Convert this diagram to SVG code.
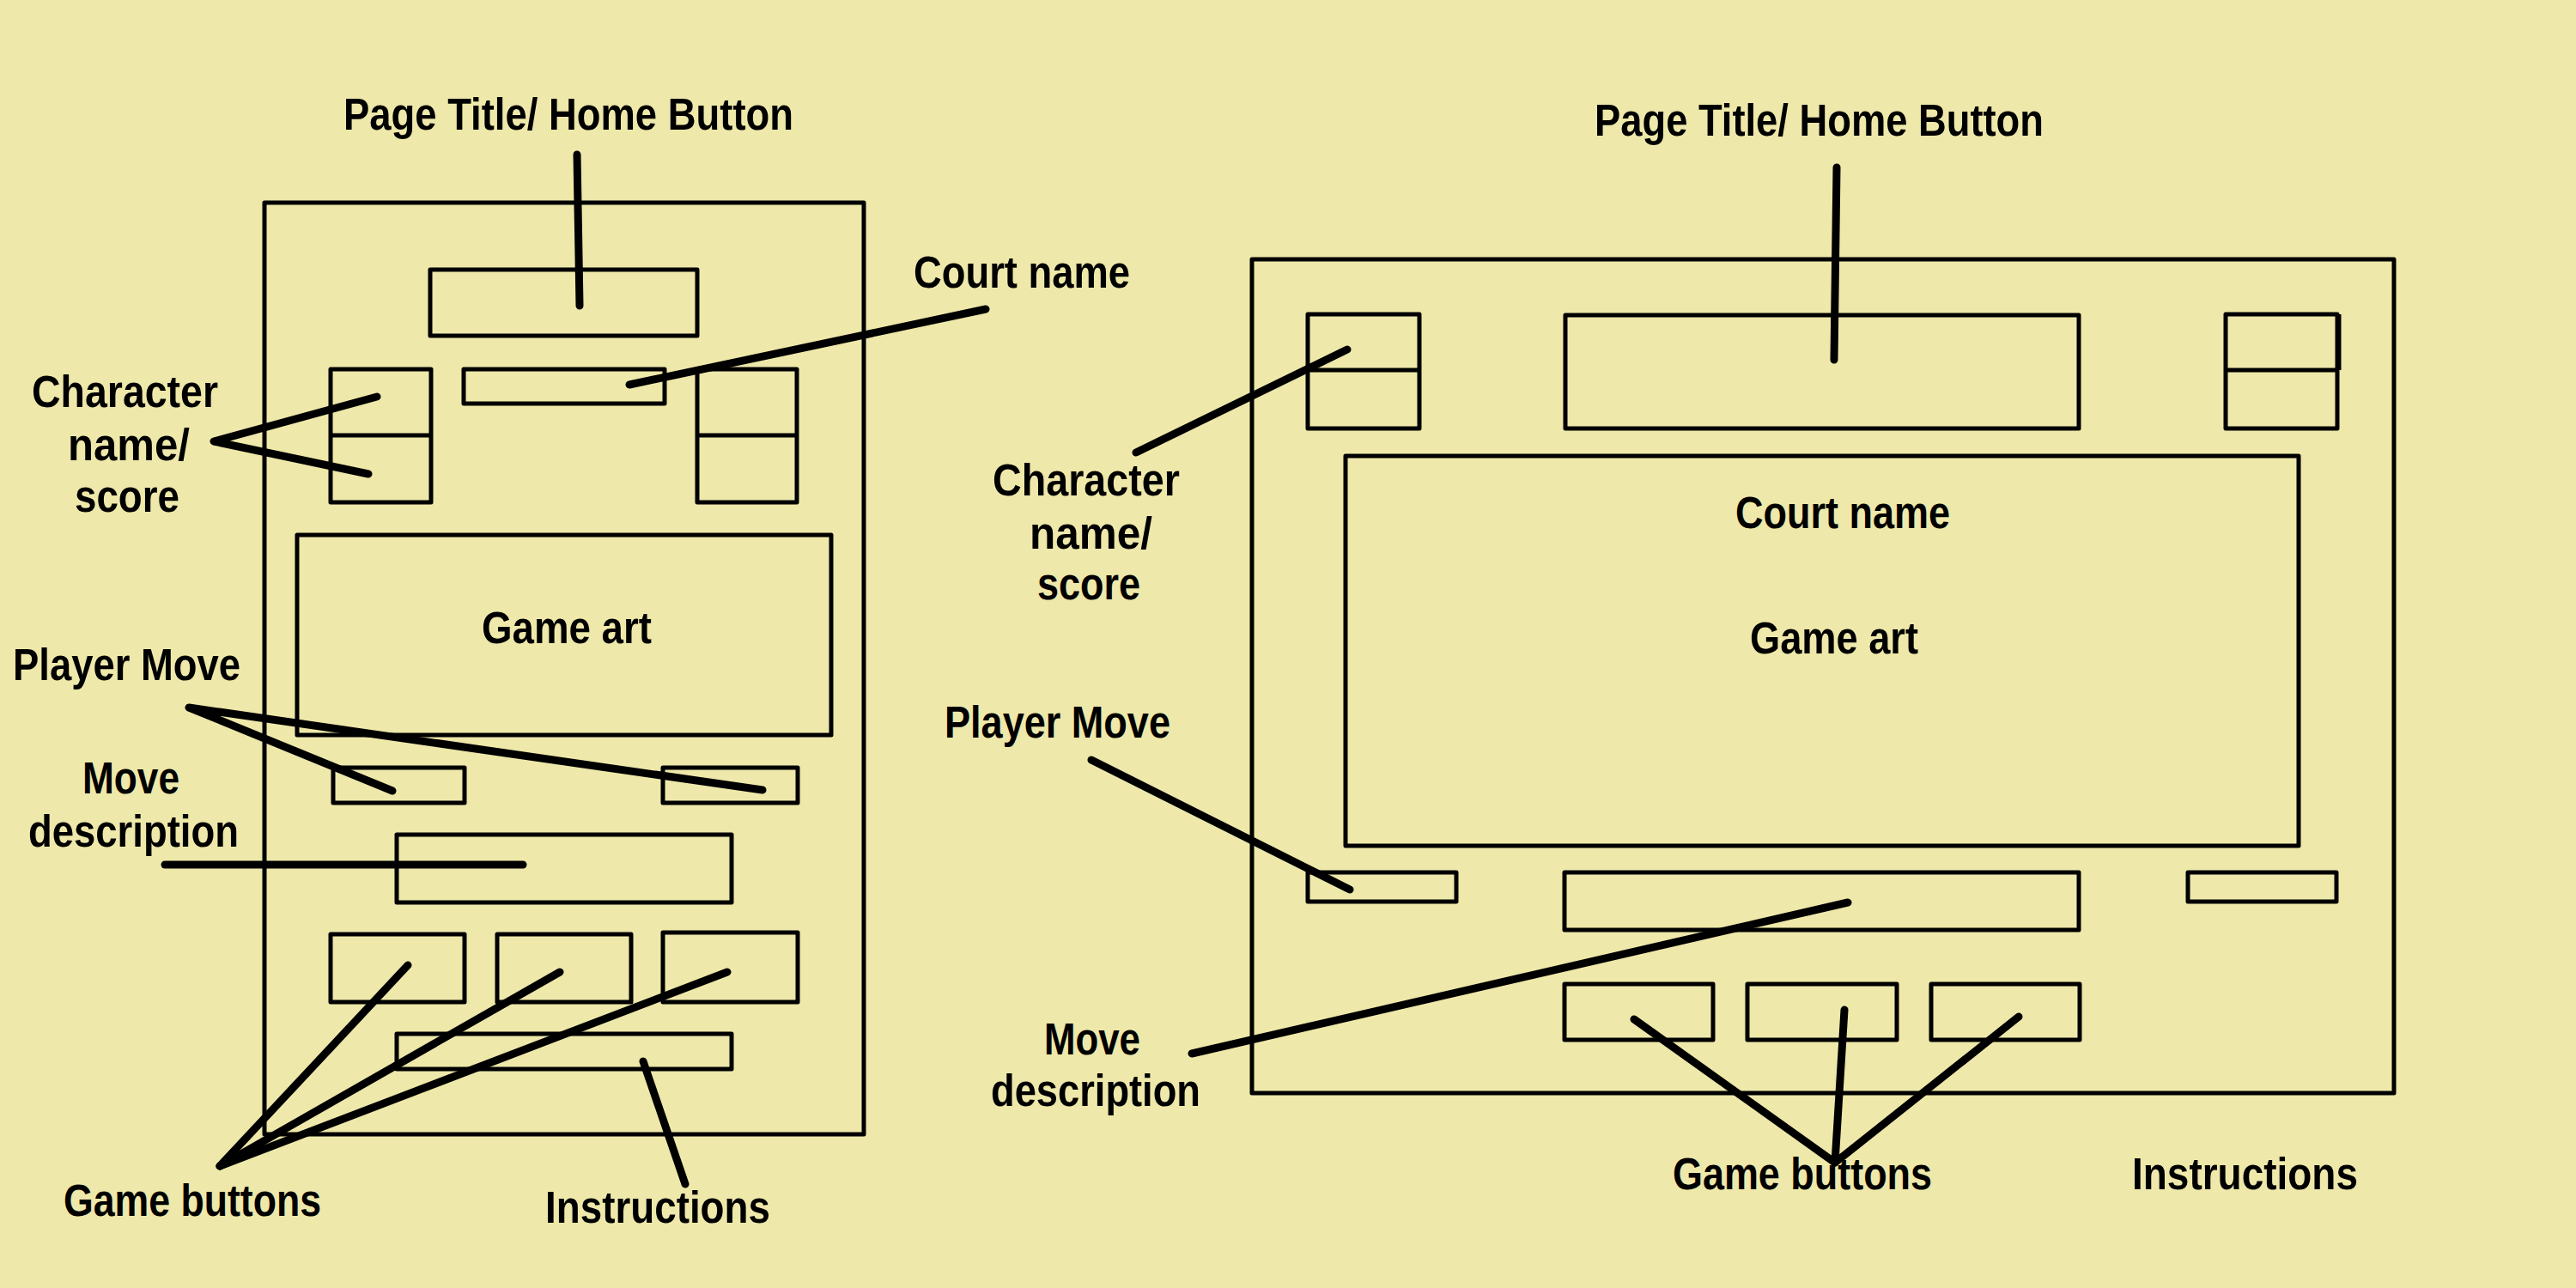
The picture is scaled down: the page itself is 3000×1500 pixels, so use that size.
<svg xmlns="http://www.w3.org/2000/svg" width="3000" height="1500" viewBox="0 0 3000 1500">
<style>
.box{fill:none;stroke:#000;stroke-width:5;stroke-linejoin:round}
.lead{fill:none;stroke:#000;stroke-width:9;stroke-linecap:round;stroke-linejoin:round}
.lbl{font-family:"Liberation Sans",Arial,sans-serif;font-weight:bold;font-size:51px;fill:#000}
</style>
<rect width="3000" height="1500" fill="#EEE8AA"/>

<!-- Left (portrait) layout -->
<g id="left-frame"><rect class="box" x="308" y="236" width="698" height="1085"/></g>
<g id="left-title-box"><rect class="box" x="501" y="314" width="311" height="77"/></g>
<g id="left-char-a"><rect class="box" x="385" y="430" width="117" height="155"/><line class="box" x1="385" y1="507" x2="502" y2="507"/></g>
<g id="left-court-box"><rect class="box" x="540" y="430" width="234" height="40"/></g>
<g id="left-char-b"><rect class="box" x="812" y="430" width="116" height="155"/><line class="box" x1="812" y1="507" x2="928" y2="507"/></g>
<g id="left-game-art"><rect class="box" x="346" y="623" width="622" height="233"/><text class="lbl" x="561" y="749" textLength="198" lengthAdjust="spacingAndGlyphs">Game art</text></g>
<g id="left-move-a"><rect class="box" x="388" y="894" width="153" height="41"/></g>
<g id="left-move-b"><rect class="box" x="772" y="894" width="157" height="41"/></g>
<g id="left-move-desc"><rect class="box" x="462" y="972" width="390" height="79"/></g>
<g id="left-btn-1"><rect class="box" x="385" y="1088" width="156" height="79"/></g>
<g id="left-btn-2"><rect class="box" x="579" y="1088" width="156" height="79"/></g>
<g id="left-btn-3"><rect class="box" x="772" y="1086" width="157" height="81"/></g>
<g id="left-instr"><rect class="box" x="462" y="1204" width="390" height="41"/></g>

<g id="left-labels">
<text class="lbl" x="400" y="151" textLength="524" lengthAdjust="spacingAndGlyphs">Page Title/ Home Button</text>
<text class="lbl" x="1064" y="335" textLength="252" lengthAdjust="spacingAndGlyphs">Court name</text>
<text class="lbl" x="37" y="474" textLength="217" lengthAdjust="spacingAndGlyphs">Character</text>
<text class="lbl" x="79" y="536" textLength="142" lengthAdjust="spacingAndGlyphs">name/</text>
<text class="lbl" x="87" y="596" textLength="122" lengthAdjust="spacingAndGlyphs">score</text>
<text class="lbl" x="15" y="792" textLength="265" lengthAdjust="spacingAndGlyphs">Player Move</text>
<text class="lbl" x="96" y="924" textLength="113" lengthAdjust="spacingAndGlyphs">Move</text>
<text class="lbl" x="33" y="986" textLength="245" lengthAdjust="spacingAndGlyphs">description</text>
<text class="lbl" x="74" y="1416" textLength="300" lengthAdjust="spacingAndGlyphs">Game buttons</text>
<text class="lbl" x="635" y="1424" textLength="262" lengthAdjust="spacingAndGlyphs">Instructions</text>
</g>

<!-- Right (landscape) layout -->
<g id="right-frame"><rect class="box" x="1458" y="302" width="1330" height="971"/></g>
<g id="right-char-a"><rect class="box" x="1523" y="366" width="130" height="133"/><line class="box" x1="1523" y1="431" x2="1653" y2="431"/></g>
<g id="right-title-box"><rect class="box" x="1823" y="367" width="598" height="132"/></g>
<g id="right-char-b"><rect class="box" x="2592" y="366" width="130" height="133"/><line class="box" x1="2592" y1="431" x2="2724" y2="431"/><line class="box" x1="2724" y1="366" x2="2724" y2="431"/></g>
<g id="right-game-art"><rect class="box" x="1567" y="531" width="1110" height="454"/>
<text class="lbl" x="2021" y="615" textLength="250" lengthAdjust="spacingAndGlyphs">Court name</text>
<text class="lbl" x="2038" y="761" textLength="196" lengthAdjust="spacingAndGlyphs">Game art</text></g>
<g id="right-move-a"><rect class="box" x="1523" y="1016" width="173" height="34"/></g>
<g id="right-move-desc"><rect class="box" x="1822" y="1016" width="599" height="67"/></g>
<g id="right-move-b"><rect class="box" x="2548" y="1016" width="173" height="34"/></g>
<g id="right-btn-1"><rect class="box" x="1822" y="1146" width="173" height="65"/></g>
<g id="right-btn-2"><rect class="box" x="2035" y="1146" width="174" height="65"/></g>
<g id="right-btn-3"><rect class="box" x="2249" y="1146" width="173" height="65"/></g>

<g id="right-labels">
<text class="lbl" x="1857" y="158" textLength="523" lengthAdjust="spacingAndGlyphs">Page Title/ Home Button</text>
<text class="lbl" x="1156" y="577" textLength="218" lengthAdjust="spacingAndGlyphs">Character</text>
<text class="lbl" x="1199" y="639" textLength="143" lengthAdjust="spacingAndGlyphs">name/</text>
<text class="lbl" x="1208" y="698" textLength="120" lengthAdjust="spacingAndGlyphs">score</text>
<text class="lbl" x="1100" y="859" textLength="263" lengthAdjust="spacingAndGlyphs">Player Move</text>
<text class="lbl" x="1216" y="1228" textLength="112" lengthAdjust="spacingAndGlyphs">Move</text>
<text class="lbl" x="1154" y="1288" textLength="244" lengthAdjust="spacingAndGlyphs">description</text>
<text class="lbl" x="1948" y="1385" textLength="302" lengthAdjust="spacingAndGlyphs">Game buttons</text>
<text class="lbl" x="2483" y="1385" textLength="263" lengthAdjust="spacingAndGlyphs">Instructions</text>
</g>

<g id="connectors">
<!-- left -->
<line class="lead" x1="672" y1="180" x2="675" y2="356"/>
<line class="lead" x1="1148" y1="360" x2="733" y2="448"/>
<polyline class="lead" points="439,462 249,514 429,552"/>
<polyline class="lead" points="457,921 220,824 888,920"/>
<line class="lead" x1="192" y1="1007" x2="609" y2="1007"/>
<line class="lead" x1="256" y1="1358" x2="475" y2="1124"/>
<line class="lead" x1="256" y1="1358" x2="652" y2="1132"/>
<line class="lead" x1="256" y1="1358" x2="847" y2="1132"/>
<line class="lead" x1="749" y1="1236" x2="798" y2="1379"/>
<!-- right -->
<line class="lead" x1="2139" y1="195" x2="2136" y2="419"/>
<line class="lead" x1="1323" y1="527" x2="1569" y2="407"/>
<line class="lead" x1="1271" y1="885" x2="1572" y2="1036"/>
<line class="lead" x1="1388" y1="1227" x2="2152" y2="1051"/>
<line class="lead" x1="2137" y1="1354" x2="1903" y2="1187"/>
<line class="lead" x1="2137" y1="1354" x2="2148" y2="1176"/>
<line class="lead" x1="2137" y1="1354" x2="2351" y2="1184"/>
</g>
</svg>
